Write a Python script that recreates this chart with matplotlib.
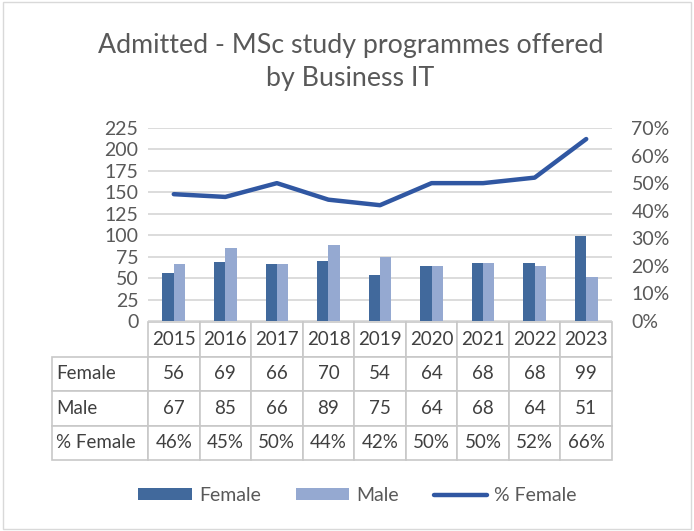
import matplotlib.pyplot as plt
from matplotlib.patches import Patch, Rectangle
from matplotlib.lines import Line2D
from matplotlib.ticker import FuncFormatter
import numpy as np

years = ["2015", "2016", "2017", "2018", "2019", "2020", "2021", "2022", "2023"]
female = [56, 69, 66, 70, 54, 64, 68, 68, 99]
male = [67, 85, 66, 89, 75, 64, 68, 64, 51]
pct_female = [46, 45, 50, 44, 42, 50, 50, 52, 66]
row_labels = ["Female", "Male", "% Female"]

c_female = "#41699C"
c_male = "#95A9D1"
c_line = "#3057A2"
c_text = "#595959"

plt.rcParams["font.family"] = ["Lato", "DejaVu Sans"]

fig = plt.figure(figsize=(6.94, 5.31), dpi=100)
ax = fig.add_axes([148 / 694, 1 - 321 / 531, 464 / 694, 193 / 531])

x = np.arange(len(years))
w = 0.22
ax.bar(x - w / 2, female, w, color=c_female, zorder=2)
ax.bar(x + w / 2, male, w, color=c_male, zorder=2)
ax.set_xlim(-0.5, len(years) - 0.5)
ax.set_ylim(0, 225)
ax.set_yticks(range(0, 226, 25))
ax.grid(axis="y", color="#D9D9D9", linewidth=1.3, zorder=0)
ax.set_xticks([])
for s in ax.spines.values():
    s.set_visible(False)
ax.tick_params(axis="y", length=0, labelsize=14, labelcolor=c_text, pad=7)

ax2 = ax.twinx()
ax2.plot(x, pct_female, color=c_line, linewidth=3.2, solid_capstyle="round",
         solid_joinstyle="round", zorder=3)
ax2.set_ylim(0, 70)
ax2.set_yticks(range(0, 71, 10))
ax2.yaxis.set_major_formatter(FuncFormatter(lambda v, p: f"{int(v)}%"))
ax2.tick_params(axis="y", length=0, labelsize=14, labelcolor=c_text, pad=14)
for s in ax2.spines.values():
    s.set_visible(False)

# data table under the chart; first column holds the row labels
cell_text = [
    [row_labels[0]] + [str(v) for v in female],
    [row_labels[1]] + [str(v) for v in male],
    [row_labels[2]] + [f"{v}%" for v in pct_female],
]
lab_w = 96 / 464
tbl = ax.table(
    cellText=cell_text,
    colLabels=[""] + years,
    colWidths=[lab_w] + [1 / 9] * 9,
    cellLoc="center",
    bbox=[-lab_w, -139 / 193, 1 + lab_w, 138 / 193],
)
tbl.auto_set_font_size(False)
for (r, c), cell in tbl.get_celld().items():
    cell.set_edgecolor("#C8C8C8")
    cell.set_linewidth(1.2)
    cell.get_text().set_fontsize(13.5)
    cell.get_text().set_color("#404040")
    if c == 0:
        cell.get_text().set_ha("left")
        cell.PAD = 0.04
        cell._loc = "left"
        if r == 0:
            cell.visible_edges = ""

fig.text(0.505, 0.915, "Admitted - MSc study programmes offered", ha="center", va="center",
         fontsize=19.3, color=c_text)
fig.text(0.505, 0.853, "by Business IT", ha="center", va="center", fontsize=19.3, color=c_text)

handles = [
    Patch(facecolor=c_female, edgecolor="none"),
    Patch(facecolor=c_male, edgecolor="none"),
    Line2D([0], [0], color=c_line, linewidth=3.2, solid_capstyle="round"),
]
leg = fig.legend(handles, ["Female", "Male", "% Female"], loc="center", ncol=3,
                 bbox_to_anchor=(0.515, 0.067), frameon=False, fontsize=14,
                 handlelength=2.75, handleheight=0.55, handletextpad=0.35, columnspacing=1.8)
for t in leg.get_texts():
    t.set_color(c_text)

fig.patches.append(Rectangle((0.004, 0.004), 0.992, 0.992, transform=fig.transFigure,
                             fill=False, edgecolor="#D9D9D9", linewidth=1))

fig.savefig("out.png", dpi=100)
